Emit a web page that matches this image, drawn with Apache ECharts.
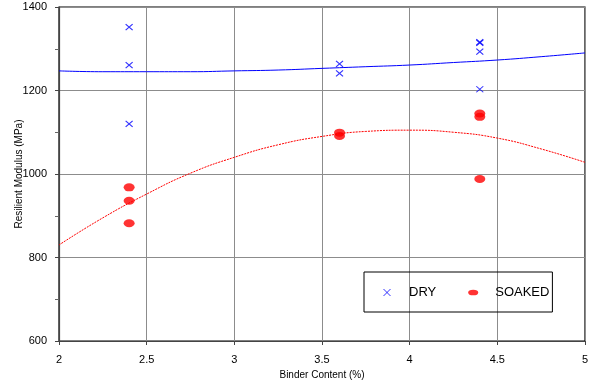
<!DOCTYPE html>
<html>
<head>
<meta charset="utf-8">
<script src="https://cdn.jsdelivr.net/npm/echarts@6/dist/echarts.min.js"></script>
<style>
  html, body { margin: 0; padding: 0; background: #fff; }
  #chart { width: 590px; height: 387px; }
</style>
</head>
<body>
<div id="chart"></div>
<script>
// Measured resilient modulus (MPa) against binder content (%)
const dryX = [2.4, 2.4, 2.4, 3.6, 3.6, 4.4, 4.4, 4.4, 4.4];
const dryY = [1352, 1261, 1120, 1264, 1241, 1316, 1314, 1293, 1203];
const soakedX = [2.4, 2.4, 2.4, 3.6, 3.6, 4.4, 4.4, 4.4];
const soakedY = [968, 936, 882, 1099, 1091, 1145, 1137, 988];

// Trend lines, sampled along binder content
const trendX = [2, 2.25, 2.5, 2.75, 3, 3.25, 3.5, 3.75, 4, 4.25, 4.5, 4.75, 5];
const dryTrend = [1247, 1245, 1245, 1245, 1247, 1249, 1253, 1257, 1261, 1267, 1273, 1281, 1290];
const soakedTrend = [830, 895, 952, 1002, 1040, 1070, 1090, 1102, 1105, 1100, 1086, 1060, 1028];

const pairs = (xs, ys) => xs.map((x, i) => [x, ys[i]]);

const crossPath = 'path://M0,0L10,10M10,0L0,10';
const ellipsePath = 'path://M0,4A7,4 0 1,0 14,4A7,4 0 1,0 0,4Z';
const fontFamily = 'Liberation Sans, Arial, sans-serif';

const chart = echarts.init(document.getElementById('chart'), null, { renderer: 'canvas' });
chart.setOption({
  animation: false,
  backgroundColor: '#ffffff',
  grid: {
    left: 59, right: 5, top: 7, bottom: 46,
    containLabel: false, outerBoundsMode: 'none',
    show: true, borderColor: '#000', borderWidth: 1.2
  },
  xAxis: {
    type: 'value', min: 2, max: 5, interval: 0.5,
    name: 'Binder Content (%)', nameLocation: 'middle', nameGap: 28,
    nameTextStyle: { fontFamily, fontSize: 10, color: '#000' },
    axisLine: { lineStyle: { color: '#444', width: 1.2 } },
    axisTick: { show: true, length: 4, lineStyle: { color: '#444' } },
    axisLabel: { fontFamily, fontSize: 11, color: '#000', margin: 13, formatter: v => String(v) },
    splitLine: { show: true, lineStyle: { color: '#8c8c8c', width: 1 } }
  },
  yAxis: {
    type: 'value', min: 600, max: 1400, interval: 200,
    name: 'Resilient Modulus (MPa)', nameLocation: 'middle', nameGap: 35,
    nameMoveOverlap: false,
    nameTextStyle: { fontFamily, fontSize: 10, color: '#000' },
    axisLine: { show: true, lineStyle: { color: '#444', width: 1.2 } },
    axisTick: { show: true, length: 4, lineStyle: { color: '#444' } },
    minorTick: { show: true, splitNumber: 2, length: 4, lineStyle: { color: '#666' } },
    axisLabel: { fontFamily, fontSize: 11, color: '#000', margin: 12, formatter: v => String(v) },
    splitLine: { show: true, lineStyle: { color: '#8c8c8c', width: 1 } }
  },
  legend: {
    left: 364, top: 272,
    orient: 'horizontal',
    data: [
      { name: 'DRY', icon: crossPath, itemStyle: { color: 'rgba(0,0,0,0)', borderColor: '#0000ff', borderWidth: 1 } },
      { name: 'SOAKED', icon: ellipsePath, itemStyle: { color: '#ff0000', borderWidth: 0 } }
    ],
    borderColor: '#000', borderWidth: 1,
    padding: [14, 3, 13, 19],
    itemGap: 32,
    itemWidth: 10, itemHeight: 7,
    textStyle: { fontFamily, fontSize: 13, color: '#000', padding: [0, 0, 0, 12] }
  },
  series: [
    {
      name: 'DRY trend', type: 'line', data: pairs(trendX, dryTrend),
      smooth: true, symbol: 'none',
      lineStyle: { color: '#0000ff', width: 1 }, z: 2
    },
    {
      name: 'SOAKED trend', type: 'line', data: pairs(trendX, soakedTrend),
      smooth: true, symbol: 'none',
      lineStyle: { color: '#ff0000', width: 1, type: [2, 1] }, z: 2
    },
    {
      name: 'DRY', type: 'scatter', data: pairs(dryX, dryY),
      symbol: crossPath, symbolSize: [7, 6],
      itemStyle: { color: 'rgba(0,0,0,0)', borderColor: '#0000ff', borderWidth: 1.1 },
      z: 3
    },
    {
      name: 'SOAKED', type: 'scatter', data: pairs(soakedX, soakedY),
      symbol: 'circle', symbolSize: [11, 8],
      itemStyle: { color: '#ff0000' },
      z: 3
    }
  ]
});
</script>
</body>
</html>
